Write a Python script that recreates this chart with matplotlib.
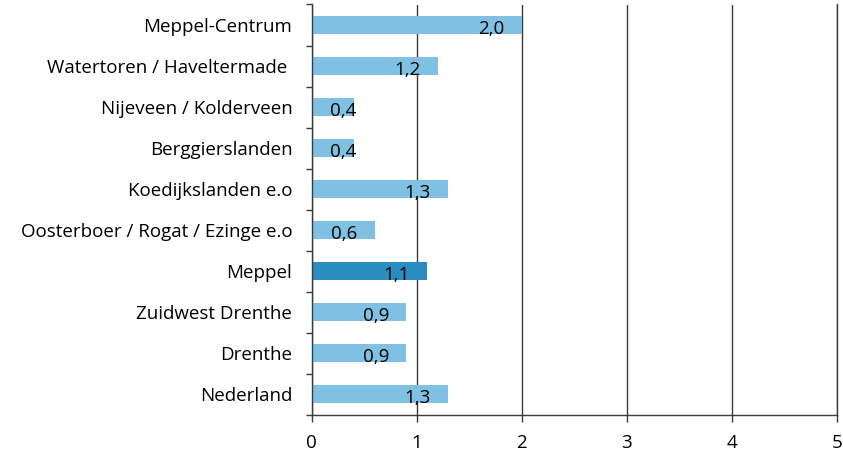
import numpy as np
import matplotlib
matplotlib.use('Agg')
import matplotlib.pyplot as plt

# waarden per gebied (van boven naar beneden)
gebieden = ['Meppel-Centrum', 'Watertoren / Haveltermade ', 'Nijeveen / Kolderveen',
            'Berggierslanden', 'Koedijkslanden e.o', 'Oosterboer / Rogat / Ezinge e.o',
            'Meppel', 'Zuidwest Drenthe', 'Drenthe', 'Nederland']
waarden = [2.0, 1.2, 0.4, 0.4, 1.3, 0.6, 1.1, 0.9, 0.9, 1.3]
x_ticks = [0, 1, 2, 3, 4, 5]

LICHT = '#80C1E3'
DONKER = '#2A8DBF'
LIJN = '#3a3a3a'
FS = 13.5

plt.rcParams['font.family'] = ['Open Sans', 'DejaVu Sans']

fig = plt.figure(figsize=(8.43, 4.5), dpi=100)
ax = fig.add_axes([0.3698, 0.0778, 0.6227, 0.9122])

n = len(gebieden)
y = np.arange(n)[::-1]
kleuren = [DONKER if g == 'Meppel' else LICHT for g in gebieden]
ax.barh(y, waarden, height=0.44, color=kleuren, zorder=3)

for yi, v in zip(y, waarden):
    ax.text(max(v - 0.29, 0.3), yi - 0.09, f'{v:.1f}'.replace('.', ','),
            ha='center', va='center', fontsize=FS, color='black', zorder=4)

ax.set_xlim(0, 5)
ax.set_ylim(-0.5, n - 0.5)
ax.set_xticks(x_ticks)
ax.set_xticklabels([str(t) for t in x_ticks], fontsize=FS)

# labels op categoriemidden, tickstreepjes op de grenzen
ax.set_yticks(y)
ax.set_yticklabels(gebieden, fontsize=FS)
ax.set_yticks(np.arange(n + 1) - 0.5, minor=True)
ax.tick_params(axis='y', which='major', length=0, pad=14)
ax.tick_params(axis='y', which='minor', length=4, width=1, color=LIJN, direction='out')
ax.tick_params(axis='x', length=5, width=1, color=LIJN, direction='out', pad=9)

ax.grid(axis='x', color=LIJN, linewidth=1, zorder=0)
ax.set_axisbelow(True)
ax.spines['top'].set_visible(False)
for s in ['left', 'bottom', 'right']:
    ax.spines[s].set_color(LIJN)
    ax.spines[s].set_linewidth(1)
    ax.spines[s].set_zorder(5)

fig.savefig('out.png', dpi=100)
